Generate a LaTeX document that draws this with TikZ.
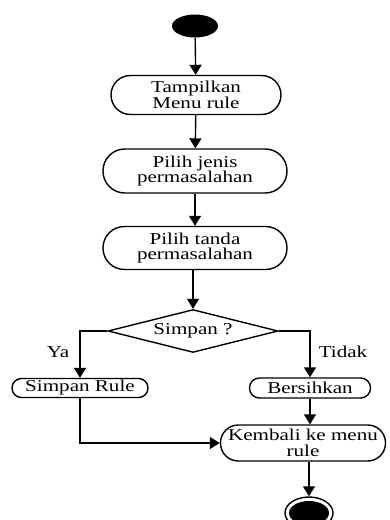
\documentclass[tikz,border=0pt]{standalone}
\usepackage{fontspec}
\setmainfont{Liberation Serif}[FakeStretch=1.27]
\usetikzlibrary{arrows.meta,shapes.geometric,positioning}

\begin{document}
\begin{tikzpicture}
[x=0.5pt,y=-0.5pt,
font=\fontsize{8.3}{7.85}\selectfont,
act/.style={shape=rectangle,rounded corners=#1,draw=black,line width=0.7pt,inner sep=0pt,align=center},
decision/.style={shape=diamond,aspect=4,draw=black,line width=0.7pt,inner sep=0pt,minimum width=85pt,minimum height=21.5pt},
myedge/.style={line width=0.7pt},
dedge/.style={myedge,-{Triangle[length=5pt,width=6pt]}}]

\useasboundingbox (0,0) rectangle (390,520);

\node (start) [ellipse,fill=black,minimum width=23pt,minimum height=11.5pt,inner sep=0pt] at (195,26) {};
\node (tampil) [act=9.7pt,minimum width=85pt,minimum height=19.5pt] at (196,95) {Tampilkan\\Menu rule};
\node (jenis) [act=10.9pt,minimum width=92pt,minimum height=22pt] at (195,171) {Pilih jenis\\permasalahan};
\node (tanda) [act=10.7pt,minimum width=92pt,minimum height=21.5pt] at (195,248) {Pilih tanda\\permasalahan};
\node (cek) [decision] at (193,331) {Simpan ?};
\node (simpan) [act=4.7pt,minimum width=68pt,minimum height=9.5pt] at (80,388) {Simpan Rule};
\node (bersih) [act=4.9pt,minimum width=60.5pt,minimum height=10pt] at (310,388) {Bersihkan};
\node (kembali) [act=8.9pt,minimum width=82.5pt,minimum height=18pt] at (303,443) {Kembali ke menu\\rule};
\node (ya) at (58,352) {Ya};
\node (tidak) at (343,352) {Tidak};
\node (endo) [ellipse,draw=black,line width=0.7pt,minimum width=24pt,minimum height=16pt,inner sep=0pt] at (309,513) {};
\node (endi) [ellipse,fill=black,minimum width=20pt,minimum height=12pt,inner sep=0pt] at (309,513) {};

\draw[dedge] (start) -- (tampil);
\draw[dedge] (tampil) -- (jenis);
\draw[dedge] (jenis) -- (tanda);
\draw[dedge] (tanda.south -| cek) -- (cek.north);
\draw[dedge] (cek.west) -| (simpan.north);
\draw[dedge] (cek.east) -| (bersih.north);
\draw[dedge] (bersih.south) -- (bersih.south |- kembali.north);
\draw[dedge] (simpan.south) |- (kembali.west);
\draw[dedge] (kembali.south -| endo) -- (endo.north);

\end{tikzpicture}
\end{document}
